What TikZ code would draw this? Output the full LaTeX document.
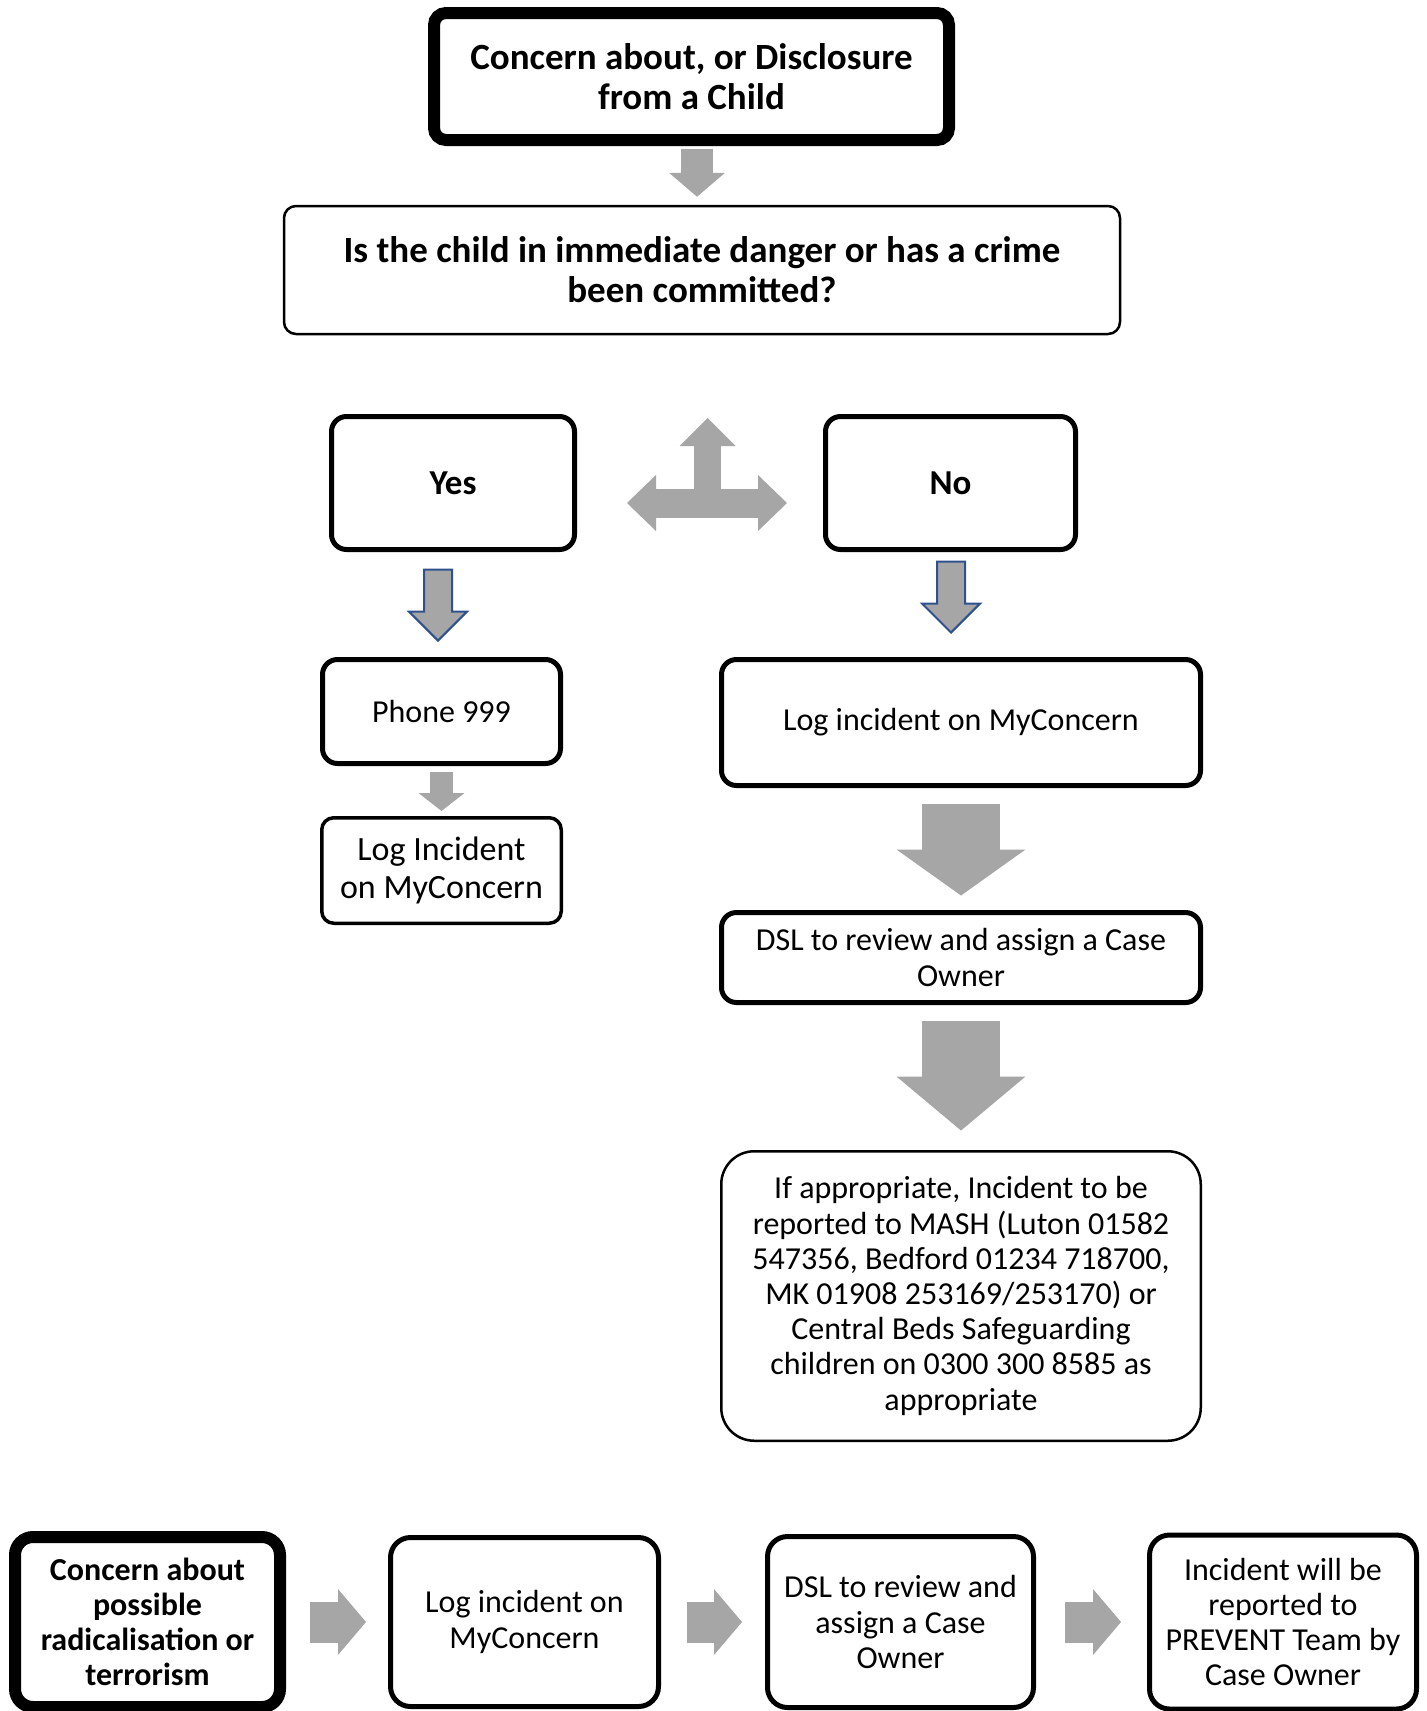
\documentclass[tikz,border=0pt]{standalone}
\usepackage{fontspec}
\setmainfont{Carlito}
\usetikzlibrary{arrows.meta,shapes.arrows,positioning,calc}
\definecolor{arrowgray}{HTML}{A6A6A6}
\definecolor{arrowblue}{HTML}{2F528F}
\tikzset{
    plainbox/.style={draw, rounded corners=12pt, align=center, inner sep=0pt, font=\fontsize{32}{35.2}\selectfont},
    heavybox/.style={plainbox, line width=12pt},
    firmbox/.style={plainbox, line width=5pt, rounded corners=15pt},
    medbox/.style={plainbox, line width=3.5pt},
    lightbox/.style={plainbox, line width=2.5pt},
    headline/.style={font=\bfseries\fontsize{37}{40}\selectfont},
    answer/.style={font=\bfseries\fontsize{35}{38}\selectfont},
    flowarrow/.style n args={3}{arrowgray, line width=#1, -{Triangle[width=#2, length=#3, line width=0pt]}},
    outarrow/.style={shape=single arrow, draw=arrowblue, fill=arrowgray, line width=2pt, rotate=-90,
        minimum height=71pt, minimum width=56pt, single arrow head extend=15pt, single arrow tip angle=90,
        inner xsep=0pt, inner ysep=13pt, anchor=tip}
}

\begin{document}
\begin{tikzpicture}[x=1pt, y=1pt]
    \useasboundingbox (0,0) rectangle (1427,-1711);
    \clip (0,0) rectangle (1427,-1711);
    \fill[white] (0,0) rectangle (1427,-1711);

    % main flow
    \node[heavybox, headline, minimum width=515pt, minimum height=127pt] (concern) at (691.5,-76.5) {Concern about, or Disclosure\\from a Child};
    \node[lightbox, headline, minimum width=836pt, minimum height=128pt] (danger) at (702,-270) {Is the child in immediate danger or has a crime\\been committed?};
    \node[firmbox, answer, minimum width=243pt, minimum height=133pt] (yes) at (453,-483) {Yes};
    \node[firmbox, answer, minimum width=250pt, minimum height=133pt, right=246pt of yes] (no) {No};

    \node[firmbox, minimum width=238pt, minimum height=104pt] (phone) at (441.5,-711.5) {Phone 999};
    \node[medbox, font=\fontsize{34}{38}\selectfont, minimum width=239.5pt, minimum height=105.5pt, below=50pt of phone] (logyes) {Log Incident\\on MyConcern};

    \node[firmbox, minimum width=479pt, minimum height=126pt] (logno) at (961,-722.5) {Log incident on MyConcern};
    \node[firmbox, minimum width=479pt, minimum height=90pt, below=122pt of logno] (review) {DSL to review and assign a Case\\Owner};
    \node[lightbox, rounded corners=33pt, minimum width=479.5pt, minimum height=289.5pt, below=145pt of review] (mash) {If appropriate, Incident to be\\reported to MASH (Luton 01582\\547356, Bedford 01234 718700,\\MK 01908 253169/253170) or\\Central Beds Safeguarding\\children on 0300 300 8585 as\\appropriate};

    % prevent row
    \node[heavybox, font=\bfseries\fontsize{32}{35}\selectfont, rounded corners=18pt, minimum width=265pt, minimum height=170pt] (radical) at (147.5,-1622) {Concern about\\possible\\radicalisation or\\terrorism};
    \node[firmbox, rounded corners=20pt, minimum width=268pt, minimum height=169pt, right=102pt of radical] (logprevent) {Log incident on\\MyConcern};
    \node[firmbox, rounded corners=20pt, minimum width=266pt, minimum height=171pt, right=104pt of logprevent] (reviewprevent) {DSL to review and\\assign a Case\\Owner};
    \node[firmbox, rounded corners=20pt, minimum width=267pt, minimum height=174pt, right=111pt of reviewprevent] (prevent) {Incident will be\\reported to\\PREVENT Team by\\Case Owner};

    % arrows
    \draw[flowarrow={32pt}{56pt}{24pt}, shorten <=3pt, shorten >=8pt] ($(concern.south)+(5.5,0)$) -- ($(concern.south |- danger.north)+(5.5,0)$);
    \coordinate (fork) at (707.5,-503);
    \draw[arrowgray, line width=29pt, {Triangle[width=56pt, length=29pt, line width=0pt]}-{Triangle[width=56pt, length=29pt, line width=0pt]}] ([xshift=-80.5pt]fork) -- ([xshift=79.5pt]fork);
    \draw[flowarrow={27pt}{56pt}{28pt}] (fork) -- ([yshift=85pt]fork);
    \node[outarrow] (yesdrop) at (438,-642) {};
    \node[outarrow] (nodrop) at (951,-634) {};
    \draw[flowarrow={23pt}{46pt}{18pt}, shorten <=6pt, shorten >=5pt] (phone) -- (logyes);
    \draw[flowarrow={78pt}{129pt}{46pt}, shorten <=16pt, shorten >=14.5pt] (logno) -- (review);
    \draw[flowarrow={78pt}{129pt}{54pt}, shorten <=16pt, shorten >=19.5pt] (review.south) -- (review.south |- mash.north);
    \draw[flowarrow={41pt}{66pt}{28pt}, shorten <=24pt, shorten >=22pt] (radical) -- (logprevent);
    \draw[flowarrow={41pt}{66pt}{28pt}, shorten <=26pt, shorten >=23pt] (logprevent) -- (reviewprevent);
    \draw[flowarrow={41pt}{66pt}{28pt}, shorten <=29pt, shorten >=26pt] (reviewprevent) -- (prevent);
\end{tikzpicture}
\end{document}
